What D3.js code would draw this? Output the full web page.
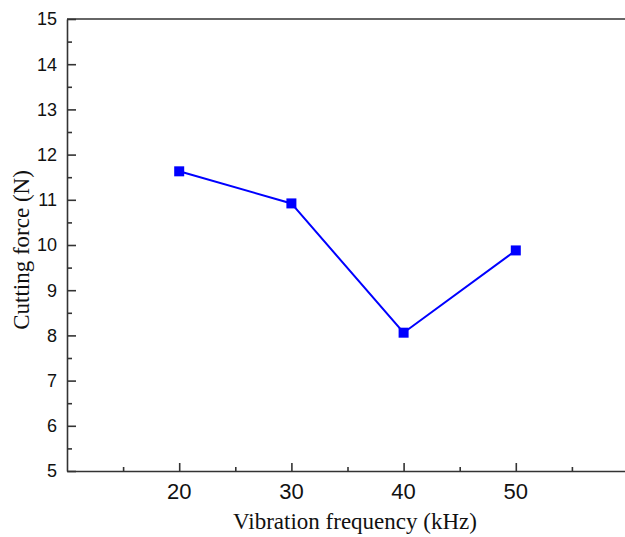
<!DOCTYPE html>
<html>
<head>
<meta charset="utf-8">
<script src="https://cdn.jsdelivr.net/npm/d3@7"></script>
<style>
  body { margin: 0; background: #fff; }
  svg { display: block; }
</style>
</head>
<body>
<div id="chart"></div>
<script>
// Data
const frequencies = [20, 30, 40, 50];
const cuttingForce = [11.63, 10.92, 8.06, 9.88];
const xTicks = [20, 30, 40, 50];
const yTicks = [5, 6, 7, 8, 9, 10, 11, 12, 13, 14, 15];

const width = 625;
const height = 537;
const margin = { top: 19, right: -3, bottom: 66, left: 67 };

const svg = d3
  .select("#chart")
  .append("svg")
  .attr("width", width)
  .attr("height", height);

const x = d3
  .scaleLinear()
  .domain([10, 60])
  .range([margin.left, width - margin.right]);

const y = d3
  .scaleLinear()
  .domain([5, 15])
  .range([height - margin.bottom, margin.top]);

const axisColor = "#333";

// Minor ticks (inward)
const xMinor = d3.range(15, 60, 10);
const yMinor = d3.range(5.5, 15, 1);

const xAxis = svg
  .append("g")
  .attr("transform", `translate(0,${height - margin.bottom})`)
  .call(
    d3.axisTop(x).tickValues(xTicks).tickSize(8).tickFormat("").tickSizeOuter(0)
  );
xAxis
  .append("g")
  .call(d3.axisTop(x).tickValues(xMinor).tickSize(4).tickFormat("").tickSizeOuter(0))
  .select(".domain")
  .remove();

xAxis.selectAll("path, line").attr("stroke", axisColor).attr("stroke-width", 1.6);

xAxis
  .selectAll(".xlab")
  .data(xTicks)
  .join("text")
  .attr("class", "xlab")
  .attr("x", (d) => x(d))
  .attr("y", 28)
  .attr("text-anchor", "middle")
  .attr("fill", "#111")
  .style("font-family", "Liberation Sans, Arial, sans-serif")
  .style("font-size", "22px")
  .text((d) => d);

const yAxis = svg
  .append("g")
  .attr("transform", `translate(${margin.left},0)`)
  .call(
    d3.axisRight(y).tickValues(yTicks).tickSize(9).tickFormat("").tickSizeOuter(0)
  );
yAxis
  .append("g")
  .call(d3.axisRight(y).tickValues(yMinor).tickSize(5).tickFormat("").tickSizeOuter(0))
  .select(".domain")
  .remove();

yAxis.selectAll("path, line").attr("stroke", axisColor).attr("stroke-width", 1.6);

yAxis
  .selectAll(".ylab")
  .data(yTicks)
  .join("text")
  .attr("class", "ylab")
  .attr("x", -10)
  .attr("y", (d) => y(d))
  .attr("dy", "0.36em")
  .attr("text-anchor", "end")
  .attr("fill", "#111")
  .style("font-family", "Liberation Sans, Arial, sans-serif")
  .style("font-size", "18px")
  .text((d) => d);

// Top frame line
svg
  .append("line")
  .attr("x1", margin.left)
  .attr("x2", width)
  .attr("y1", y(15))
  .attr("y2", y(15))
  .attr("stroke", axisColor)
  .attr("stroke-width", 1.6);

// Axis titles
svg
  .append("text")
  .attr("x", 355)
  .attr("y", 529)
  .attr("text-anchor", "middle")
  .attr("fill", "#111")
  .style("font-family", "Liberation Serif, Times New Roman, serif")
  .style("font-size", "23px")
  .text("Vibration frequency (kHz)");

svg
  .append("text")
  .attr("transform", "translate(29,250) rotate(-90)")
  .attr("text-anchor", "middle")
  .attr("fill", "#111")
  .style("font-family", "Liberation Serif, Times New Roman, serif")
  .style("font-size", "23px")
  .text("Cutting force (N)");

// Line and markers
const points = frequencies.map((f, i) => ({ f, v: cuttingForce[i] }));

const line = d3
  .line()
  .x((d) => x(d.f))
  .y((d) => y(d.v));

svg
  .append("path")
  .datum(points)
  .attr("fill", "none")
  .attr("stroke", "#0000ff")
  .attr("stroke-width", 2)
  .attr("d", line);

svg
  .selectAll(".marker")
  .data(points)
  .join("rect")
  .attr("class", "marker")
  .attr("x", (d) => x(d.f) - 5)
  .attr("y", (d) => y(d.v) - 5)
  .attr("width", 10)
  .attr("height", 10)
  .attr("fill", "#0000ff");
</script>
</body>
</html>
